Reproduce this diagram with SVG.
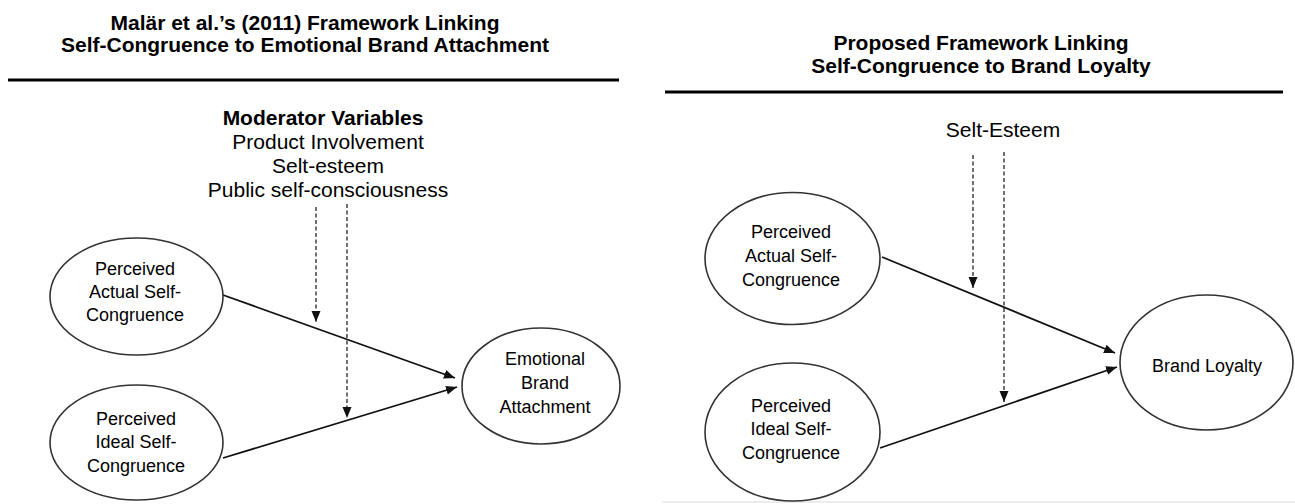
<svg xmlns="http://www.w3.org/2000/svg" width="1295" height="504" viewBox="0 0 1295 504">
  <style>
    .title { font-family: "Liberation Sans", Arial, sans-serif; font-size: 21px; font-weight: bold; fill: #000; text-anchor: middle; }
    .mod { font-family: "Liberation Sans", Arial, sans-serif; font-size: 21px; fill: #000; text-anchor: middle; }
    .mod-head { font-weight: bold; }
    .label { font-family: "Liberation Sans", Arial, sans-serif; font-size: 18px; fill: #000; text-anchor: middle; }
    .node { fill: #fff; stroke: #333; stroke-width: 1.6; }
    .rule { stroke: #000; stroke-width: 3; }
    .path { fill: none; stroke: #111; stroke-width: 1.8; }
    .moderator { fill: none; stroke: #111; stroke-width: 1.2; stroke-dasharray: 4 2.5; }
  </style>
  <defs>
    <marker id="arrow" markerUnits="userSpaceOnUse" markerWidth="12" markerHeight="10" refX="11" refY="5" orient="auto">
      <path d="M0,0.5 L11,5 L0,9.5 z" fill="#111"/>
    </marker>
  </defs>

  <rect width="1295" height="504" fill="#fff"/>

  <!-- Left panel heading -->
  <g id="left-heading">
    <text class="title" x="305" y="30">Malär et al.’s (2011) Framework Linking</text>
    <text class="title" x="305" y="52">Self-Congruence to Emotional Brand Attachment</text>
    <line class="rule" x1="8" y1="80" x2="619" y2="80"/>
  </g>

  <!-- Right panel heading -->
  <g id="right-heading">
    <text class="title" x="981" y="50">Proposed Framework Linking</text>
    <text class="title" x="981" y="73">Self-Congruence to Brand Loyalty</text>
    <line class="rule" x1="665" y1="92" x2="1283" y2="92"/>
    <line x1="662" y1="502" x2="1295" y2="502" stroke="#e6e6e6" stroke-width="1.5"/>
  </g>

  <!-- Moderators -->
  <g id="left-moderators">
    <text class="mod mod-head" x="323" y="125">Moderator Variables</text>
    <text class="mod" x="328" y="149">Product Involvement</text>
    <text class="mod" x="328" y="173">Selt-esteem</text>
    <text class="mod" x="328" y="197">Public self-consciousness</text>
  </g>
  <g id="right-moderator">
    <text class="mod" x="1003" y="137">Selt-Esteem</text>
  </g>

  <!-- Connectors -->
  <g id="connectors">
    <line class="path" x1="223" y1="295" x2="455" y2="378" marker-end="url(#arrow)"/>
    <line class="path" x1="223" y1="458" x2="457" y2="387" marker-end="url(#arrow)"/>
    <line class="moderator" x1="316" y1="207" x2="316" y2="322" marker-end="url(#arrow)"/>
    <line class="moderator" x1="347" y1="204" x2="347" y2="418" marker-end="url(#arrow)"/>

    <line class="path" x1="882" y1="257" x2="1115" y2="353" marker-end="url(#arrow)"/>
    <line class="path" x1="880" y1="448" x2="1117" y2="367" marker-end="url(#arrow)"/>
    <line class="moderator" x1="973" y1="155" x2="973" y2="288" marker-end="url(#arrow)"/>
    <line class="moderator" x1="1004" y1="152" x2="1004" y2="402" marker-end="url(#arrow)"/>
  </g>

  <!-- Left model nodes -->
  <g id="left-actual">
    <ellipse class="node" cx="136.5" cy="296.5" rx="86.5" ry="58.5"/>
    <text class="label" x="135" y="275">Perceived</text>
    <text class="label" x="135" y="298">Actual Self-</text>
    <text class="label" x="135" y="321">Congruence</text>
  </g>
  <g id="left-ideal">
    <ellipse class="node" cx="136.5" cy="442.5" rx="86.5" ry="57.5"/>
    <text class="label" x="136" y="425">Perceived</text>
    <text class="label" x="136" y="448">Ideal Self-</text>
    <text class="label" x="136" y="472">Congruence</text>
  </g>
  <g id="emotional-attachment">
    <ellipse class="node" cx="541" cy="386" rx="79" ry="58"/>
    <text class="label" x="545" y="365">Emotional</text>
    <text class="label" x="545" y="389">Brand</text>
    <text class="label" x="545" y="413">Attachment</text>
  </g>

  <!-- Right model nodes -->
  <g id="right-actual">
    <ellipse class="node" cx="792.5" cy="258.5" rx="87.5" ry="66"/>
    <text class="label" x="791" y="238">Perceived</text>
    <text class="label" x="791" y="262">Actual Self-</text>
    <text class="label" x="791" y="286">Congruence</text>
  </g>
  <g id="right-ideal">
    <ellipse class="node" cx="792.5" cy="432" rx="87.5" ry="69"/>
    <text class="label" x="791" y="412">Perceived</text>
    <text class="label" x="791" y="435">Ideal Self-</text>
    <text class="label" x="791" y="459">Congruence</text>
  </g>
  <g id="brand-loyalty">
    <ellipse class="node" cx="1206.5" cy="362.5" rx="86.5" ry="67.5"/>
    <text class="label" x="1207" y="372">Brand Loyalty</text>
  </g>
</svg>
